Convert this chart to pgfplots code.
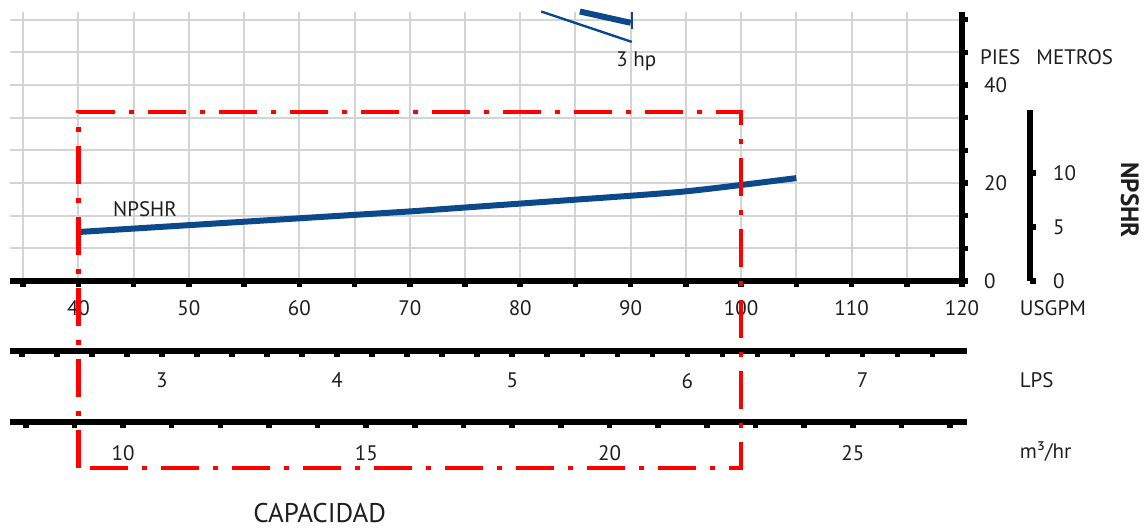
\documentclass[border=0pt]{standalone}
\usepackage{pgfplots}
\pgfplotsset{compat=1.18}
\usepackage{fontspec}
\setmainfont{PT Sans}
\definecolor{curve}{RGB}{12,72,140}
\definecolor{txt}{RGB}{30,30,30}
\definecolor{gridc}{RGB}{212,212,212}

\pgfplotsset{
  myaxis/.style={
    scale only axis,
    axis line style={-, line width=3pt, black},
    every outer x axis line/.append style={-},
    every outer y axis line/.append style={-},
    tick align=outside,
    major tick length=3pt, minor tick length=3pt,
    every tick/.append style={black, line width=2.8pt},
    tick style={black, line width=2.8pt},
    major tick style={black, line width=2.8pt},
    minor tick style={black, line width=2.8pt},
    /pgf/number format/assume math mode=true,
    ticklabel style={font=\fontsize{10.5}{12}\selectfont, text=txt},
  }
}

\begin{document}
\begin{tikzpicture}[font=\fontsize{10.5}{12}\selectfont]
\useasboundingbox (0,0) rectangle (573pt,263.5pt);

% main axis (USGPM vs feet)
\begin{axis}[
  at={(5pt,123pt)}, anchor=south west,
  width=476pt, height=134.75pt,
  xmin=33.8, xmax=120, ymin=0, ymax=55,
  axis x line=bottom, axis y line=right,
  myaxis,
  xtick={40,50,...,120}, minor xtick={35,45,...,115},
  ytick={0,20,40}, minor ytick={6.6667,13.3333,26.6667,33.3333,46.6667,53.3333},
  grid=both,
  major grid style={gridc, line width=1pt},
  minor grid style={gridc, line width=1pt},
  xticklabel style={yshift=-3pt},
  yticklabel style={xshift=4.5pt},
  clip=false,
]
\addplot[curve, line width=3pt, smooth] coordinates {
  (40,10.0) (45,10.7) (50,11.4) (55,12.1) (60,12.8) (65,13.5) (70,14.2)
  (75,15.0) (80,15.8) (85,16.6) (90,17.4) (95,18.3) (100,19.6) (105,21.0)};
% 3 hp curves (partially visible)
\addplot[curve, line width=1.2pt] coordinates {(81.9,55) (90.1,48.8)};
\addplot[curve, line width=3pt] coordinates {(85.4,55) (90,52.7)};
\addplot[curve, line width=1pt] coordinates {(90.1,54.8) (90.1,51.5)};

\node[anchor=west, text=txt] at (axis cs:42.5,14.6) {NPSHR};
\node[text=txt] at (axis cs:90.5,44.9) {3 hp};
\node[anchor=west, text=txt] at (axis cs:121.0,45.7) {PIES};
\node[anchor=west, text=txt] at (axis cs:126.1,45.7) {METROS};
\node[anchor=west, text=txt] at (axis cs:124.6,-5.5) {USGPM};
\node[anchor=west, text=txt] at (axis cs:124.6,-20.2) {LPS};
\node[anchor=west, text=txt] at (axis cs:124.6,-34.9) {m³/hr};
\node[text=txt, font=\fontsize{13.5}{15}\selectfont] at (axis cs:61.85,-47.3) {CAPACIDAD};
\node[rotate=-90, text=txt, font=\fontsize{12.5}{14}\selectfont\bfseries] at (axis cs:135.2,16.5) {NPSHR};
\end{axis}

% LPS axis
\begin{axis}[
  at={(5pt,88pt)}, anchor=south west,
  width=478.5pt, height=1pt,
  xmin=2.13245, xmax=7.5964, ymin=0, ymax=1,
  axis x line=bottom, axis y line=none,
  myaxis,
  xtick={3,4,5,6,7}, minor xtick={2.2,2.4,2.6,2.8,3.2,3.4,3.6,3.8,4.2,4.4,4.6,4.8,5.2,5.4,5.6,5.8,6.2,6.4,6.6,6.8,7.2,7.4},
  ytick=\empty,
  xticklabel style={yshift=-4.5pt},
]
\end{axis}

% m3/hr axis
\begin{axis}[
  at={(5pt,52.5pt)}, anchor=south west,
  width=478.5pt, height=1pt,
  xmin=7.6768, xmax=27.347, ymin=0, ymax=1,
  axis x line=bottom, axis y line=none,
  myaxis,
  xtick={10,15,20,25}, minor xtick={8,9,11,12,13,14,16,17,18,19,21,22,23,24,26,27},
  ytick=\empty,
  xticklabel style={yshift=-5pt},
]
\end{axis}

% metres bar
\begin{axis}[
  at={(514pt,123pt)}, anchor=south west,
  width=1pt, height=85.5pt,
  xmin=0, xmax=1, ymin=0, ymax=15.83,
  axis y line=right, axis x line=none,
  myaxis,
  ytick={0,5,10}, xtick=\empty,
  yticklabel style={xshift=5pt},
]
\end{axis}

% red dash-dot selection rectangle (overlay, same coordinates as main axis)
\begin{axis}[
  at={(5pt,123pt)}, anchor=south west, scale only axis,
  width=476pt, height=134.75pt,
  xmin=33.8, xmax=120, ymin=0, ymax=55,
  hide axis, clip=false,
]
\addplot[red, line width=2.2pt, dash pattern=on 19pt off 7pt on 2.5pt off 7pt]
  coordinates {(40,-38.2) (40,34.5) (100,34.5) (100,-38.2) (40,-38.2)};
\end{axis}
\end{tikzpicture}
\end{document}
